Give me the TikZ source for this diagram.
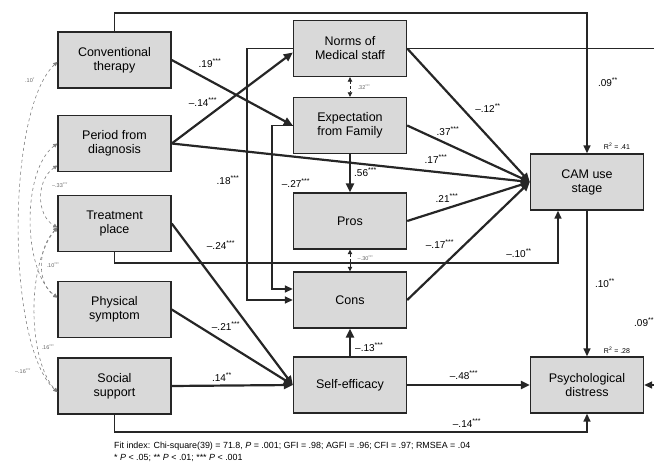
\documentclass[tikz,border=0pt]{standalone}
\usepackage{fontspec}
\setmainfont{Liberation Sans}
\usetikzlibrary{arrows.meta}

\newcommand{\sig}[1]{\textsuperscript{#1}}

\begin{document}
\begin{tikzpicture}[x=1pt,y=-1pt,
    box/.style={draw=black!85, line width=1.4pt, fill=gray!30, minimum width=113pt,
      minimum height=56pt, align=center, inner sep=1pt, font=\fontsize{12.5}{14}\selectfont},
    arr/.style={line width=1.5pt, black!85, -{Triangle[length=8pt,width=7pt]}},
    fan/.style={line width=2.2pt, black!85, -{Triangle[length=9pt,width=8pt]}},
    corr/.style={dashed, gray, line width=0.6pt,
      {Triangle[length=4pt,width=4pt]}-{Triangle[length=4pt,width=4pt]}},
    pair/.style={densely dashed, black!85, line width=0.8pt,
      {Triangle[length=4.5pt,width=4.5pt]}-{Triangle[length=4.5pt,width=4.5pt]}},
    coef/.style={font=\fontsize{10}{11}\selectfont, inner sep=1pt},
    tiny/.style={font=\fontsize{5.5}{6}\selectfont, text=black!60, inner sep=0.5pt},
    note/.style={font=\fontsize{8.9}{9}\selectfont, inner sep=0pt, anchor=west}]
\useasboundingbox (0,0) rectangle (654,462);

% exogenous variables
\node[box] (conv)   at (114.5,60)  {Conventional\\therapy};
\node[box] (period) at (114.5,143.5) {Period from\\diagnosis};
\node[box] (treat)  at (114.5,223.5) {Treatment\\place};
\node[box] (phys)   at (114.5,309.5) {Physical\\symptom};
\node[box] (social) at (114.5,386) {Social\\support};

% mediators
\node[box] (norms)   at (350,48.5)  {Norms of\\Medical staff};
\node[box] (expect)  at (350,125.5) {Expectation\\from Family};
\node[box] (pros)    at (350,221)   {Pros};
\node[box] (cons)    at (350,300)   {Cons};
\node[box] (selfeff) at (350,385)   {Self-efficacy};

% outcomes
\node[box] (cam)   at (587,182) {CAM use\\stage};
\node[box] (psych) at (587,385) {Psychological\\distress};

% routing helpers
\coordinate (top) at (0,13);
\coordinate (mid) at (0,263);
\coordinate (low) at (0,432);
\coordinate (rim) at (664,0);
\coordinate (lane1) at (247,0);
\coordinate (lane2) at (272,0);

% long routed paths
\draw[arr] (conv.north) -- (conv.north |- top) -| (cam.north);
\draw[arr] (norms.east) -- (norms.east -| rim) |- (psych.east);
\draw[arr] (treat.south) -- (treat.south |- mid) -| ([xshift=-29pt]cam.south);
\draw[arr] (social.south) -- (social.south |- low) -| (psych.south);
\draw[arr] (cam.south) -- (psych.north);
\draw[arr] (norms.west) -- (norms.west -| lane1) |- (cons.west);
\draw[arr] (expect.west) -- (expect.west -| lane2) |- ([yshift=11pt]cons.west);

% direct paths
\draw[fan] (conv.east) -- (expect.west);
\draw[fan] (period.east) -- ([yshift=-4pt]norms.west);
\draw[fan] (norms.east) -- (cam.west);
\draw[fan] (expect.east) -- (cam.west);
\draw[fan] (period.east) -- (cam.west);
\draw[fan] (pros.east) -- (cam.west);
\draw[fan] (cons.east) -- (cam.west);
\draw[fan] (expect.south) -- (pros.north);
\draw[fan] (treat.east) -- (selfeff.west);
\draw[fan] (phys.east) -- (selfeff.west);
\draw[fan] (social.east) -- (selfeff.west);
\draw[fan] (selfeff.east) -- (psych.west);
\draw[fan] (selfeff.north) -- (cons.south);

% residual pairs
\draw[pair] (norms.south) -- (expect.north);
\draw[pair] (pros.south) -- (cons.north);

% correlations among exogenous variables
\draw[corr] ([yshift=-2pt]conv.west) .. controls (6,110) and (6,345) .. ([yshift=-6pt]social.west);
\draw[corr] ([yshift=-22pt]period.west) .. controls (36,180) and (36,215) .. ([yshift=-4pt]treat.west);
\draw[corr] (period.west) .. controls (22,170) and (22,270) .. ([yshift=12pt]phys.west);
\draw[corr] ([yshift=-4pt]treat.west) .. controls (36,250) and (38,285) .. ([yshift=12pt]phys.west);
\draw[corr] ([yshift=-4pt]treat.west) .. controls (26,265) and (28,360) .. ([yshift=-6pt]social.west);

% coefficients
\node[coef] (c1) at (210,63) {.19\sig{***}};
\node[coef] (c2) at (203,102) {--.14\sig{***}};
\node[coef] (c3) at (228,180) {.18\sig{***}};
\node[coef] (c4) at (296,183) {--.27\sig{***}};
\node[coef, anchor=west] (c5) at (353,172) {.56\sig{***}};
\node[coef] (c6) at (488,108) {--.12\sig{**}};
\node[coef] (c7) at (448,131) {.37\sig{***}};
\node[coef] (c8) at (436,159) {.17\sig{***}};
\node[coef] (c9) at (447,198) {.21\sig{***}};
\node[coef] (c10) at (440,244) {--.17\sig{***}};
\node[coef] (c11) at (519,253) {--.10\sig{**}};
\node[coef] (c12) at (608,82) {.09\sig{**}};
\node[coef] (c13) at (605,283) {.10\sig{**}};
\node[coef, anchor=west] (c14) at (633,322) {.09\sig{**}};
\node[coef] (c15) at (221,245) {--.24\sig{***}};
\node[coef] (c16) at (226,326) {--.21\sig{***}};
\node[coef] (c17) at (222,377) {.14\sig{**}};
\node[coef, anchor=west] (c18) at (354,347) {--.13\sig{***}};
\node[coef] (c19) at (464,375) {--.48\sig{***}};
\node[coef] (c20) at (467,423) {--.14\sig{***}};
\node[coef, font=\fontsize{7}{7}\selectfont] (r1) at (617,146) {R\sig{2} = .41};
\node[coef, font=\fontsize{7}{7}\selectfont] (r2) at (617,350) {R\sig{2} = .28};
\node[tiny, anchor=west] (p1) at (357,87) {.32\sig{***}};
\node[tiny, anchor=west] (p2) at (357,258) {--.30\sig{***}};

% correlation labels
\node[tiny] (k1) at (30,80) {.10\sig{*}};
\node[tiny] (k2) at (60,185) {--.33\sig{***}};
\node[tiny] (k3) at (53,265) {.10\sig{***}};
\node[tiny] (k4) at (48,347) {.16\sig{***}};
\node[tiny] (k5) at (23,371) {--.16\sig{***}};

% fit indices
\node[note] (fit) at (114,446) {Fit index: Chi-square(39) = 71.8, \textit{P} = .001; GFI = .98; AGFI = .96; CFI = .97; RMSEA = .04};
\node[note] (stars) at (114,457.5) {* \textit{P} < .05; ** \textit{P} < .01; *** \textit{P} < .001};
\end{tikzpicture}
\end{document}
